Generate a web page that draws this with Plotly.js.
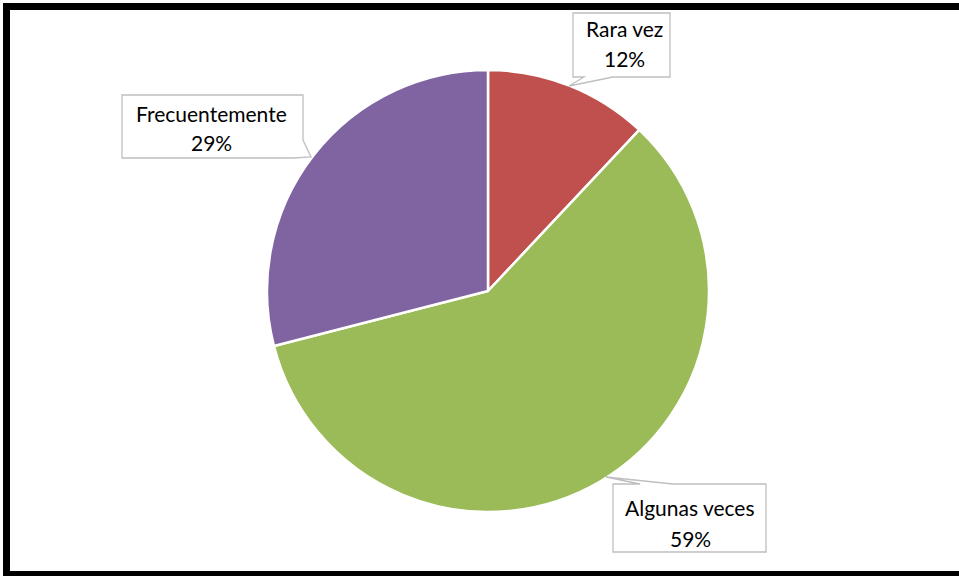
<!DOCTYPE html>
<html>
<head>
<meta charset="utf-8">
<script src="https://cdn.plot.ly/plotly-3.0.1.min.js"></script>
<style>html,body{margin:0;padding:0;background:#fff;}#chart{width:959px;height:576px;}</style>
</head>
<body>
<div id="chart"></div>
<script>
const categories = ["Rara vez", "Algunas veces", "Frecuentemente"];
const values = [12, 59, 29];
const percentLabels = ["12%", "59%", "29%"];
const colors = ["#C0504D", "#9BBB59", "#8064A2"];

const W = 959, H = 576;
const px = x => x / W;
const py = y => 1 - y / H;
function pathOf(pts) {
  return "M " + pts.map(p => px(p[0]).toFixed(5) + "," + py(p[1]).toFixed(5)).join(" L ") + " Z";
}

// callout bubbles (pixel layout), k = category index
const bubbles = [
  {k: 0, pts: [[573,13],[670,13],[670,77],[613,77],[569,86],[584,77],[573,77]], cx: 624, y1: 29, y2: 58.5},
  {k: 2, pts: [[122,95],[303,95],[303,140],[311,157],[293,158],[122,158]], cx: 211, y1: 113, y2: 143},
  {k: 1, pts: [[613,484],[640,484],[606,477],[673,484],[766,484],[766,552],[613,552]], cx: 690, y1: 507, y2: 538.5}
];

const shapes = [];
const annotations = [];
const font = {family: "Lato, 'Open Sans', sans-serif", size: 21, color: "#000"};
bubbles.forEach(b => {
  shapes.push({type: "path", xref: "paper", yref: "paper", path: pathOf(b.pts),
    fillcolor: "#FFFFFF", line: {color: "#BFBFBF", width: 1.3}});
  annotations.push({xref: "paper", yref: "paper", x: px(b.cx), y: py(b.y1),
    xanchor: "center", yanchor: "middle", showarrow: false, text: categories[b.k], font: font});
  annotations.push({xref: "paper", yref: "paper", x: px(b.cx), y: py(b.y2),
    xanchor: "center", yanchor: "middle", showarrow: false, text: percentLabels[b.k], font: font});
});
// outer border
shapes.push({type: "rect", xref: "paper", yref: "paper",
  x0: px(6.5), y0: py(574.5), x1: px(975), y1: py(6.5),
  line: {color: "#000", width: 7}, fillcolor: "rgba(0,0,0,0)"});

const cx = 488, cy = 291, r = 221;
const trace = {
  type: "pie",
  labels: categories,
  values: values,
  sort: false,
  direction: "clockwise",
  rotation: 0,
  marker: {colors: colors, line: {color: "#FFFFFF", width: 2.5}},
  textinfo: "none",
  hoverinfo: "none",
  showlegend: false,
  domain: {x: [px(cx - r), px(cx + r)], y: [py(cy + r), py(cy - r)]}
};

const layout = {
  width: W, height: H,
  margin: {l: 0, r: 0, t: 0, b: 0},
  paper_bgcolor: "#FFFFFF",
  showlegend: false,
  shapes: shapes,
  annotations: annotations
};
Plotly.newPlot("chart", [trace], layout, {staticPlot: true, displayModeBar: false});
</script>
</body>
</html>
